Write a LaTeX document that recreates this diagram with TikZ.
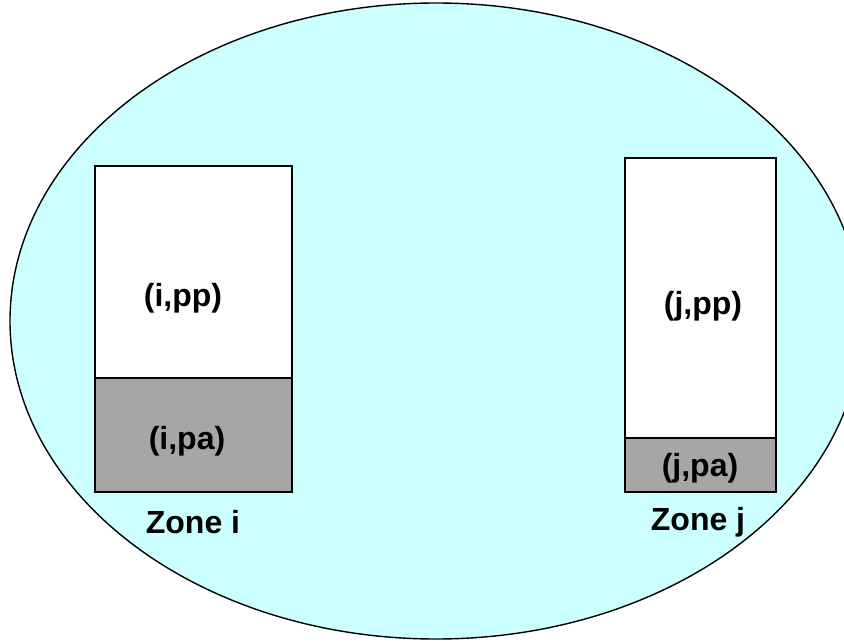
\documentclass[tikz,border=0pt]{standalone}
\usepackage{fontspec}
\setmainfont{Liberation Sans}
\usetikzlibrary{positioning}

\definecolor{zonebg}{RGB}{204,255,255}
\definecolor{pashade}{RGB}{166,166,166}

\begin{document}
\begin{tikzpicture}[
  x=1pt, y=-1pt,
  cell/.style={rectangle, draw=black, line width=1.4pt, inner sep=0pt,
               outer sep=0pt, anchor=north west},
  lbl/.style={font=\fontsize{32}{38}\selectfont\bfseries, inner sep=0pt}]
  \useasboundingbox (0,0) rectangle (844,642);
  \clip (0,0) rectangle (844,642);
  % region holding both zones
  \draw[fill=zonebg, line width=1.4pt] (436,321) ellipse [x radius=426, y radius=318];
  % zone i
  \node[cell, fill=white, minimum width=197pt, minimum height=212pt] (ipp) at (95,166) {};
  \node[cell, fill=pashade, minimum width=197pt, minimum height=114pt,
        below=0pt of ipp] (ipa) {};
  % zone j
  \node[cell, fill=white, minimum width=151pt, minimum height=280pt] (jpp) at (625,158) {};
  \node[cell, fill=pashade, minimum width=151pt, minimum height=54pt,
        below=0pt of jpp] (jpa) {};
  % labels
  \node[lbl] (ippl) at (183,298) {(i,pp)};
  \node[lbl] (ipal) at (187,441) {(i,pa)};
  \node[lbl] (jppl) at (703,306) {(j,pp)};
  \node[lbl] (jpal) at (700,468) {(j,pa)};
  \node[lbl, anchor=base] (zi) at (193,533) {Zone i};
  \node[lbl, anchor=base] (zj) at (698,530) {Zone j};
\end{tikzpicture}
\end{document}
